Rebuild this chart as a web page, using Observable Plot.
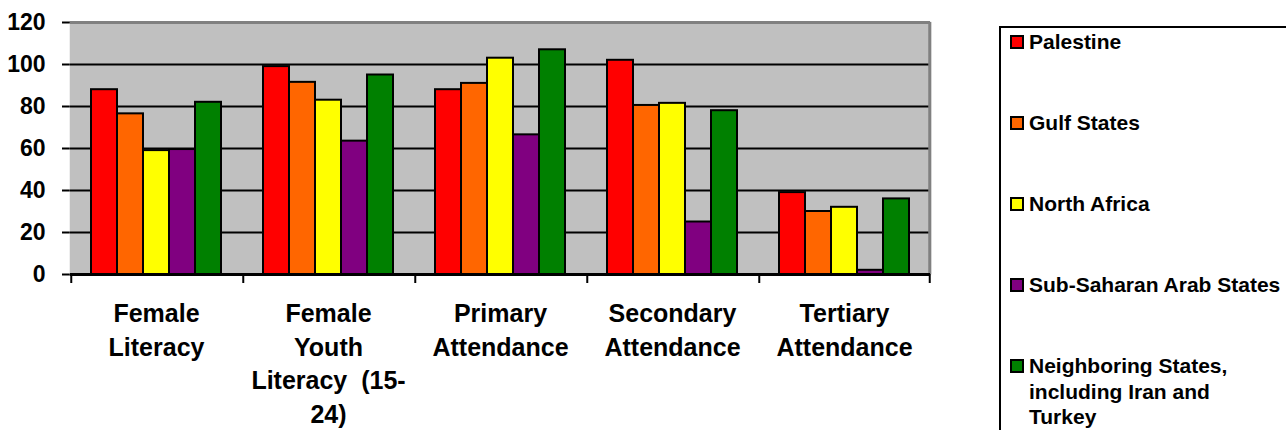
<!DOCTYPE html>
<html><head><meta charset="utf-8">
<script src="https://cdn.jsdelivr.net/npm/d3@7"></script>
<script src="https://cdn.jsdelivr.net/npm/@observablehq/plot@0.6"></script>
<style>
html,body{margin:0;padding:0;background:#fff;overflow:hidden;width:1286px;height:430px;}
#wrap{position:relative;width:1286px;height:430px;font-family:'Liberation Sans',Arial,sans-serif;font-weight:bold;color:#000;}
#chart{position:absolute;left:0;top:0;}
#legend{position:absolute;left:999px;top:26px;width:330px;height:470px;border:2px solid #000;box-sizing:border-box;padding:1px 0 0 9px;background:#fff;}
.item{display:flex;align-items:flex-start;font-size:21px;line-height:25.5px;margin-bottom:55.5px;white-space:pre-line;}
.sw{width:10px;height:10px;border:2px solid #000;margin-top:6px;margin-right:5px;flex:none;}
</style>
</head><body>
<div id="wrap"><div id="chart"></div><div id="legend"></div></div>
<script>
const categories = ["Female Literacy", "Female Youth Literacy (15-24)", "Primary Attendance", "Secondary Attendance", "Tertiary Attendance"];
const categoryLabels = ["Female\nLiteracy", "Female\nYouth\nLiteracy  (15-\n24)", "Primary\nAttendance", "Secondary\nAttendance", "Tertiary\nAttendance"];
const series = ["Palestine", "Gulf States", "North Africa", "Sub-Saharan Arab States", "Neighboring States, including Iran and Turkey"];
const legendLabels = ["Palestine", "Gulf States", "North Africa", "Sub-Saharan Arab States", "Neighboring States,\nincluding Iran and\nTurkey"];
const colors = ["#FF0000", "#FF6600", "#FFFF00", "#800080", "#008000"];
const palestine = [88, 99, 88, 102, 39];
const gulfStates = [76.5, 91.5, 91, 80.5, 30];
const northAfrica = [59, 83, 103, 81.5, 32];
const subSaharan = [59.5, 63.5, 66.5, 25, 2];
const neighboring = [82, 95, 107, 78, 36];
const yTicks = [0, 20, 40, 60, 80, 100, 120];

const values = [palestine, gulfStates, northAfrica, subSaharan, neighboring];
const data = series.flatMap((s, i) => categories.map((c, j) => ({category: c, series: s, value: values[i][j]})));

const W = 960, ML = 70, MR = 30;
const po = 0.76;
const facetW = (W - ML - MR) / categories.length;
const step = facetW / (series.length + 2 * po);
const edge = po * step + step / 2;

const chart = Plot.plot({
  width: W, height: 430, marginLeft: ML, marginRight: MR, marginTop: 22, marginBottom: 156,
  style: {fontFamily: "'Liberation Sans', Arial, sans-serif", fontSize: "23px", fontWeight: "bold", background: "transparent", color: "#000", overflow: "visible"},
  fx: {domain: categories, padding: 0, axis: null, label: null},
  x: {domain: series, paddingInner: 0, paddingOuter: po, axis: null, label: null},
  y: {domain: [0, 120], ticks: yTicks, tickSize: 8, tickPadding: 17, line: true, label: null, tickFormat: d => String(d)},
  color: {domain: series, range: colors},
  marks: [
    Plot.frame({fill: "#c0c0c0", stroke: "#c0c0c0", strokeWidth: 1.5}),
    Plot.ruleY(yTicks.slice(1, -1), {stroke: "#000", strokeWidth: 2}),
    Plot.ruleY([120], {stroke: "#808080", strokeWidth: 3}),
    Plot.ruleX([categories[categories.length - 1]], {fx: d => d, x: () => series[series.length - 1], dx: edge, y1: 0, y2: 120, stroke: "#808080", strokeWidth: 3}),
    Plot.barY(data, {fx: "category", x: "series", y: "value", fill: "series", stroke: "#000", strokeWidth: 2}),
    Plot.ruleY([0], {stroke: "#000", strokeWidth: 3}),
    Plot.ruleX(categories, {fx: d => d, x: () => series[0], dx: -edge, y1: 0, y2: 0, insetBottom: -9, stroke: "#000", strokeWidth: 2}),
    Plot.ruleX([categories[categories.length - 1]], {fx: d => d, x: () => series[series.length - 1], dx: edge, y1: 0, y2: 0, insetBottom: -9, stroke: "#000", strokeWidth: 2}),
    Plot.text(categories, {fx: d => d, text: d => categoryLabels[categories.indexOf(d)], frameAnchor: "bottom", lineAnchor: "top", dy: 24, lineHeight: 1.34, fontSize: 25, fontWeight: "bold", fill: "#000"})
  ]
});
d3.select(chart).selectAll('[aria-label^="y-axis"] line, [aria-label^="y-axis"] path').attr("stroke-width", 2).style("stroke-width", "2px");
document.getElementById("chart").appendChild(chart);

const legend = d3.select("#legend");
series.forEach((s, i) => {
  const it = legend.append("div").attr("class", "item");
  it.append("div").attr("class", "sw").style("background", colors[i]);
  it.append("div").text(legendLabels[i]);
});
</script>
</body></html>
